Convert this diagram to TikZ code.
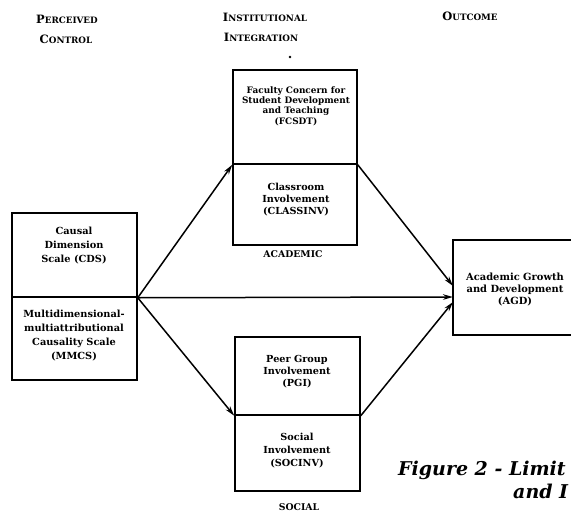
\documentclass[tikz,border=0pt]{standalone}
\usepackage{fontspec}
\setmainfont{DejaVu Serif}
\usetikzlibrary{arrows.meta}
\newcommand\hsc[2]{{\fontsize{11.5}{12}\selectfont #1}{\fontsize{8.8}{12}\selectfont #2}}
\begin{document}
\begin{tikzpicture}[x=1pt,y=-1pt,
  box/.style={draw, line width=1.5pt, inner sep=0pt},
  txt/.style={align=center, font=\bfseries\fontsize{9.7}{12}\selectfont, inner sep=0pt},
  hdr/.style={font=\bfseries, inner sep=0pt, align=center},
  grplbl/.style={font=\bfseries\fontsize{9.3}{10}\selectfont, inner sep=0pt},
  arr/.style={line width=1.5pt, -{Stealth[length=10pt,width=5.5pt]}},
  dotnode/.style={circle, fill, inner sep=0pt, minimum size=2.8pt},
  captxt/.style={anchor=west, inner sep=0pt, font=\bfseries\itshape\fontsize{19}{20}\selectfont}
  ]
\useasboundingbox (0,0) rectangle (571,515);
\begin{scope}
\clip (0,0) rectangle (571,515);
% headers
\node[hdr] (h1a) at (67,19) {\hsc{P}{ERCEIVED}};
\node[hdr] (h1b) at (66,39) {\hsc{C}{ONTROL}};
\node[hdr] (h2a) at (265,17) {\hsc{I}{NSTITUTIONAL}};
\node[hdr] (h2b) at (261,37) {\hsc{I}{NTEGRATION}};
\node[hdr] (h3) at (470,16) {\hsc{O}{UTCOME}};
\node[dotnode] (d1) at (290,57) {};
% left box
\node[box, minimum width=125pt, minimum height=84pt] (cds) at (74.5,255) {};
\node[box, minimum width=125pt, minimum height=83pt] (mmcs) at (74.5,338.5) {};
\node[txt, font=\bfseries\fontsize{9.8}{14}\selectfont] (cdst) at (74,246) {Causal\\Dimension\\Scale (CDS)};
\node[txt, font=\bfseries\fontsize{9.8}{14}\selectfont] (mmcst) at (74,336) {Multidimensional-\\multiattributional\\Causality Scale\\(MMCS)};
% academic box
\node[box, minimum width=124pt, minimum height=94pt] (fcsdt) at (295,117) {};
\node[box, minimum width=124pt, minimum height=81pt] (classinv) at (295,204.5) {};
\node[txt, font=\bfseries\fontsize{8.9}{10.3}\selectfont] (fcsdtt) at (296,106) {Faculty Concern for\\Student Development\\and Teaching\\(FCSDT)};
\node[txt] (classinvt) at (296,200) {Classroom\\Involvement\\(CLASSINV)};
\node[grplbl] (acad) at (293,254) {ACADEMIC};
% social box
\node[box, minimum width=125pt, minimum height=78pt] (pgi) at (297.5,376) {};
\node[box, minimum width=125pt, minimum height=76pt] (socinv) at (297.5,453) {};
\node[txt] (pgit) at (297,372) {Peer Group\\Involvement\\(PGI)};
\node[txt, font=\bfseries\fontsize{9.7}{13}\selectfont] (socinvt) at (297,451) {Social\\Involvement\\(SOCINV)};
\node[grplbl] (soc) at (299,507) {SOCIAL};
% outcome box
\node[box, minimum width=137pt, minimum height=95pt] (agd) at (521.5,287.5) {};
\node[txt, font=\bfseries\fontsize{9.9}{12}\selectfont] (agdt) at (515,290) {Academic Growth\\and Development\\(AGD)};
% arrows
\coordinate (t1) at (453,286);
\coordinate (t2) at (453,297);
\coordinate (t3) at (453,302);
\draw[arr] (cds.south east) -- (fcsdt.south west);
\draw[arr] (cds.south east) -- (pgi.south west);
\draw[arr] (cds.south east) -- (t2);
\draw[arr] (fcsdt.south east) -- (t1);
\draw[arr] (pgi.south east) -- (t3);
% caption
\node[captxt] (cap1) at (398,470) {Figure 2 - Limit};
\node[captxt] (cap2) at (513,491) {and I};
\end{scope}
\end{tikzpicture}
\end{document}
